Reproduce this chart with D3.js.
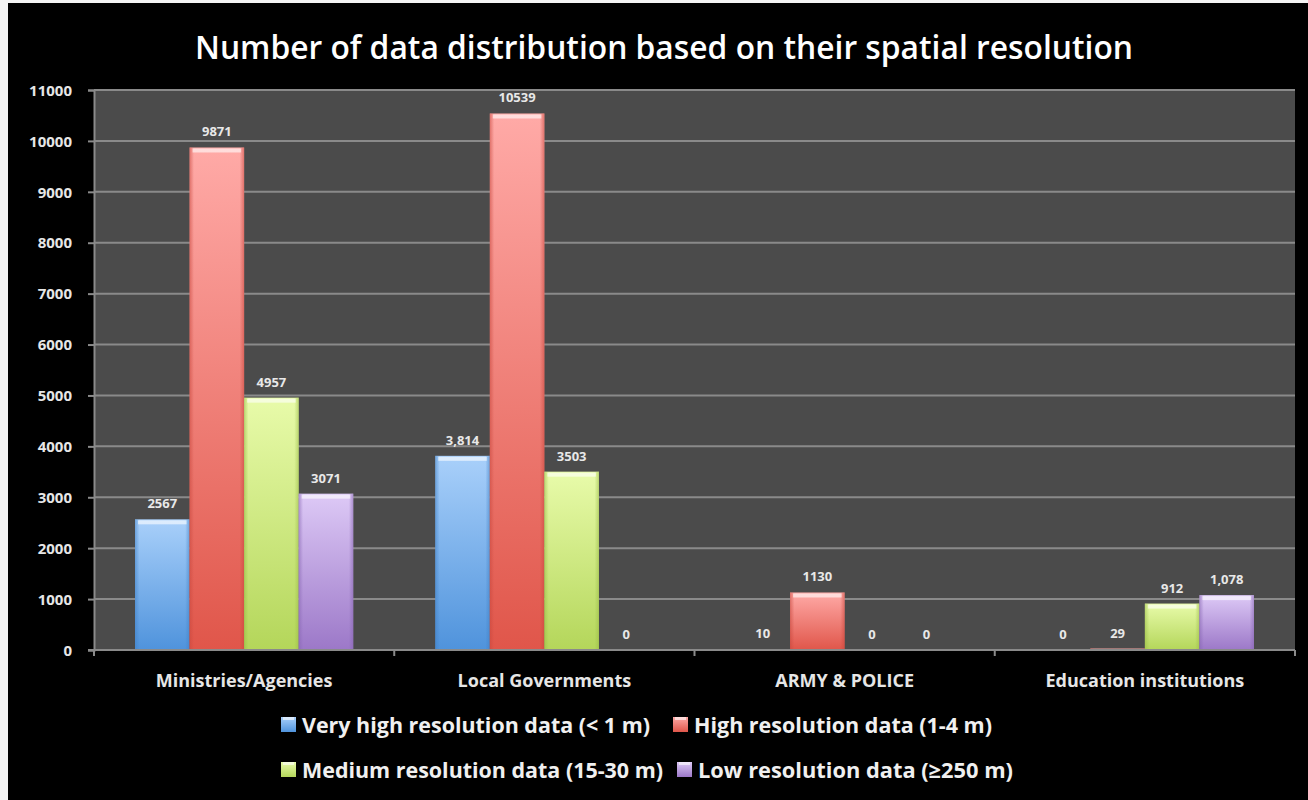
<!DOCTYPE html>
<meta charset="utf-8">
<script src="https://d3js.org/d3.v7.min.js"></script>
<style>
  body { margin: 0; background: #f4f4f4; }
  svg { display: block; }
</style>
<body>
<svg id="chart" width="1308" height="800"></svg>
<script>

// data
var categories = ["Ministries/Agencies", "Local Governments", "ARMY & POLICE", "Education institutions"];
var seriesNames = ["Very high resolution data (< 1 m)", "High resolution data (1-4 m)",
                   "Medium resolution data (15-30 m)", "Low resolution data (\u2265250 m)"];
var veryHigh = [2567, 3814, 10, 0];
var high     = [9871, 10539, 1130, 29];
var medium   = [4957, 3503, 0, 912];
var low      = [3071, 0, 0, 1078];
// labels as they are printed (some have thousands separators, some don't)
var veryHighLabels = ["2567", "3,814", "10", "0"];
var highLabels     = ["9871", "10539", "1130", "29"];
var mediumLabels   = ["4957", "3503", "0", "912"];
var lowLabels      = ["3071", "0", "0", "1,078"];
var yTicks = [0, 1000, 2000, 3000, 4000, 5000, 6000, 7000, 8000, 9000, 10000, 11000];

var series = [
  { name: seriesNames[0], values: veryHigh, labels: veryHighLabels, top: "#a9d0fa", bottom: "#4f93dc", edge: "#3f7fc4" },
  { name: seriesNames[1], values: high,     labels: highLabels,     top: "#ffaaa7", bottom: "#e0564a", edge: "#c8463c" },
  { name: seriesNames[2], values: medium,   labels: mediumLabels,   top: "#e8fbaa", bottom: "#b4d65a", edge: "#98ba44" },
  { name: seriesNames[3], values: low,      labels: lowLabels,      top: "#ddc9f6", bottom: "#9c78c8", edge: "#8563b0" }
];

var svg = d3.select("#chart");

// black slide background (thin light strip left/top like the screenshot)
svg.append("rect").attr("x", 8).attr("y", 3).attr("width", 1300).attr("height", 797).attr("fill", "#000");

var margin = { left: 94, right: 1295, top: 90, bottom: 650 };

var x0 = d3.scaleBand().domain(categories).range([margin.left, margin.right]).padding(0);
var x1 = d3.scaleBand().domain(d3.range(4))
  .range([41, x0.bandwidth() - 41]).padding(0);
var y = d3.scaleLinear().domain([0, 11000]).range([margin.bottom, margin.top]);

// gradients
var defs = svg.append("defs");
series.forEach(function(s, i) {
  var g = defs.append("linearGradient").attr("id", "grad" + i)
    .attr("x1", 0).attr("y1", 0).attr("x2", 0).attr("y2", 1);
  g.append("stop").attr("offset", "0%").attr("stop-color", s.top);
  g.append("stop").attr("offset", "100%").attr("stop-color", s.bottom);
  var e = defs.append("linearGradient").attr("id", "edge" + i)
    .attr("x1", 0).attr("y1", 0).attr("x2", 1).attr("y2", 0);
  e.append("stop").attr("offset", "0%").attr("stop-color", s.edge).attr("stop-opacity", 0.55);
  e.append("stop").attr("offset", "8%").attr("stop-color", s.edge).attr("stop-opacity", 0);
  e.append("stop").attr("offset", "92%").attr("stop-color", s.edge).attr("stop-opacity", 0);
  e.append("stop").attr("offset", "100%").attr("stop-color", s.edge).attr("stop-opacity", 0.55);
});

// plot area
svg.append("rect")
  .attr("x", margin.left).attr("y", margin.top)
  .attr("width", margin.right - margin.left).attr("height", margin.bottom - margin.top)
  .attr("fill", "#4b4b4b");

// gridlines + y labels
var yAxis = svg.append("g").attr("transform", "translate(" + margin.left + ",0)")
  .call(d3.axisLeft(y).tickValues(yTicks).tickSize(6).tickFormat(d3.format("d")));
yAxis.select(".domain").attr("stroke", "#8a8a8a").attr("stroke-width", 2);
yAxis.selectAll(".tick line").attr("stroke", "#8a8a8a").attr("stroke-width", 2);
yAxis.selectAll(".tick text")
  .attr("x", -22).attr("dy", "0.35em")
  .attr("fill", "#e6e6e6")
  .style("font-family", "'Open Sans', sans-serif")
  .style("font-size", "15px").style("font-weight", 700);

svg.append("g").selectAll("line").data(yTicks.filter(function(d) { return d > 0; }))
  .join("line")
  .attr("x1", margin.left).attr("x2", margin.right)
  .attr("y1", function(d) { return y(d); }).attr("y2", function(d) { return y(d); })
  .attr("stroke", "#8a8a8a").attr("stroke-width", 2);

// bars
var groups = svg.append("g").selectAll("g").data(categories).join("g")
  .attr("transform", function(d) { return "translate(" + x0(d) + ",0)"; });

series.forEach(function(s, i) {
  groups.append("rect")
    .attr("x", x1(i)).attr("width", x1.bandwidth())
    .attr("y", function(d, j) { return y(s.values[j]); })
    .attr("height", function(d, j) { return y(0) - y(s.values[j]); })
    .attr("fill", "url(#grad" + i + ")");
  groups.append("rect")
    .attr("x", x1(i)).attr("width", x1.bandwidth())
    .attr("y", function(d, j) { return y(s.values[j]); })
    .attr("height", function(d, j) { return y(0) - y(s.values[j]); })
    .attr("fill", "url(#edge" + i + ")");
  // glossy bevel at the top
  groups.append("rect")
    .attr("x", x1(i) + 3).attr("width", x1.bandwidth() - 6)
    .attr("y", function(d, j) { return y(s.values[j]) + 1; })
    .attr("height", function(d, j) { return s.values[j] > 150 ? 4 : 0; })
    .attr("fill", "#fff").attr("opacity", 0.6);
  groups.append("text")
    .attr("x", x1(i) + x1.bandwidth() / 2)
    .attr("y", function(d, j) { return y(s.values[j]) - 11; })
    .attr("text-anchor", "middle")
    .attr("fill", "#e8e8e8")
    .style("font-family", "'Open Sans', sans-serif")
    .style("font-size", "13px").style("font-weight", 700)
    .text(function(d, j) { return s.labels[j]; });
});

// x axis
var xAxis = svg.append("g").attr("transform", "translate(0," + margin.bottom + ")")
  .call(d3.axisBottom(x0).tickSize(0).tickPadding(24));
xAxis.select(".domain").remove();
xAxis.selectAll(".tick text")
  .attr("fill", "#e6e6e6")
  .style("font-family", "'Open Sans', sans-serif")
  .style("font-size", "18px").style("font-weight", 700);
svg.append("line")
  .attr("x1", margin.left - 6).attr("x2", margin.right)
  .attr("y1", margin.bottom).attr("y2", margin.bottom)
  .attr("stroke", "#8a8a8a").attr("stroke-width", 2);
svg.append("g").selectAll("line")
  .data(categories.map(function(c) { return x0(c); }).concat([margin.right]))
  .join("line")
  .attr("x1", function(d) { return d; }).attr("x2", function(d) { return d; })
  .attr("y1", margin.bottom).attr("y2", margin.bottom + 6)
  .attr("stroke", "#8a8a8a").attr("stroke-width", 2);

// title
svg.append("text")
  .attr("x", 664).attr("y", 59)
  .attr("text-anchor", "middle")
  .attr("fill", "#fff")
  .attr("textLength", 938).attr("lengthAdjust", "spacingAndGlyphs")
  .style("font-family", "'Open Sans', sans-serif")
  .style("font-size", "33px").style("font-weight", 600)
  .text("Number of data distribution based on their spatial resolution");

// legend
var legendPos = [
  { x: 281, y: 717 }, { x: 673, y: 717 },
  { x: 281, y: 762 }, { x: 677, y: 762 }
];
var legendWidths = [348, 298, 361, 315];
var legend = svg.append("g").selectAll("g").data(series).join("g")
  .attr("transform", function(d, i) { return "translate(" + legendPos[i].x + "," + legendPos[i].y + ")"; });
legend.append("rect")
  .attr("width", 15).attr("height", 15)
  .attr("fill", function(d, i) { return "url(#grad" + i + ")"; });
legend.append("rect")
  .attr("x", 2).attr("width", 11).attr("height", 3)
  .attr("fill", "#fff").attr("opacity", 0.6);
legend.append("text")
  .attr("x", 21).attr("y", 16)
  .attr("fill", "#f0f0f0")
  .attr("textLength", function(d, i) { return legendWidths[i]; })
  .attr("lengthAdjust", "spacingAndGlyphs")
  .style("font-family", "'Open Sans', sans-serif")
  .style("font-size", "21px").style("font-weight", 700)
  .text(function(d) { return d.name; });

</script>
</body>
